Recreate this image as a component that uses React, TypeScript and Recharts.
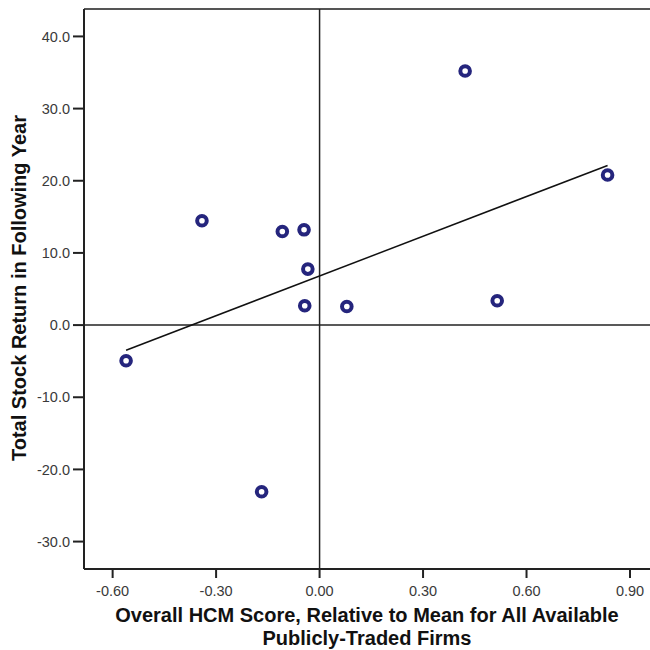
import React from "react";
import { ScatterChart, Scatter, XAxis, YAxis, ReferenceLine } from "recharts";

const hcmScore = [-0.561, -0.341, -0.168, -0.108, -0.045, -0.034, -0.043, 0.079, 0.422, 0.835, 0.515];
const stockReturn = [-4.94, 14.45, -23.1, 12.96, 13.2, 7.76, 2.67, 2.58, 35.2, 20.8, 3.37];
const xTicks = [-0.6, -0.3, 0, 0.3, 0.6, 0.9];
const yTicks = [-30, -20, -10, 0, 10, 20, 30, 40];
const xDomain = [-0.683, 0.958];
const yDomain = [-33.8, 43.8];

const data = hcmScore.map((x, i) => ({ x, y: stockReturn[i] }));

// ordinary least squares fit line across the data range
const n = hcmScore.length;
const mx = hcmScore.reduce((a, b) => a + b, 0) / n;
const my = stockReturn.reduce((a, b) => a + b, 0) / n;
let sxx = 0;
let sxy = 0;
for (let i = 0; i < n; i++) {
  sxx += (hcmScore[i] - mx) ** 2;
  sxy += (hcmScore[i] - mx) * (stockReturn[i] - my);
}
const slope = sxy / sxx;
const intercept = my - slope * mx;
const xMin = Math.min(...hcmScore);
const xMax = Math.max(...hcmScore);
const fitSegment = [
  { x: xMin, y: intercept + slope * xMin },
  { x: xMax, y: intercept + slope * xMax },
];

const FONT = '"Liberation Sans", Arial, sans-serif';

const Ring = (props: any) => {
  const { cx, cy } = props;
  return <circle cx={cx} cy={cy} r={4.8} fill="#ffffff" stroke="#25257d" strokeWidth={4} />;
};

const XLabel = () => (
  <text textAnchor="middle" fontFamily={FONT} fontSize={20} fontWeight="bold" fill="#111">
    <tspan x={367} y={622}>Overall HCM Score, Relative to Mean for All Available</tspan>
    <tspan x={367} y={645}>Publicly-Traded Firms</tspan>
  </text>
);

const YLabel = () => (
  <text
    x={26}
    y={288}
    transform="rotate(-90, 26, 288)"
    textAnchor="middle"
    fontFamily={FONT}
    fontSize={20}
    fontWeight="bold"
    fill="#111"
  >
    Total Stock Return in Following Year
  </text>
);

export default function App() {
  return (
    <div style={{ position: "absolute", left: 0, top: 0, width: 650, height: 650, background: "#fff" }}>
      <ScatterChart width={650} height={650} margin={{ top: 9, right: 0, bottom: 0, left: 0 }}>
        <XAxis
          type="number"
          dataKey="x"
          domain={xDomain}
          ticks={xTicks}
          allowDataOverflow
          height={81}
          tickSize={9}
          tickMargin={8}
          tickFormatter={(v: number) => v.toFixed(2)}
          tick={{ fontSize: 14.5, fill: "#3a3a3a", fontFamily: FONT }}
          axisLine={{ stroke: "#222", strokeWidth: 2 }}
          tickLine={{ stroke: "#222", strokeWidth: 2 }}
          label={XLabel}
        />
        <YAxis
          type="number"
          dataKey="y"
          domain={yDomain}
          ticks={yTicks}
          allowDataOverflow
          width={84}
          tickSize={11}
          tickMargin={3}
          tickFormatter={(v: number) => v.toFixed(1)}
          tick={{ fontSize: 14.5, fill: "#3a3a3a", fontFamily: FONT }}
          axisLine={{ stroke: "#222", strokeWidth: 2 }}
          tickLine={{ stroke: "#222", strokeWidth: 2 }}
          label={YLabel}
        />
        <ReferenceLine y={yDomain[1]} stroke="#555" strokeWidth={2} />
        <ReferenceLine x={0} stroke="#222" strokeWidth={1.5} />
        <ReferenceLine y={0} stroke="#222" strokeWidth={1.5} />
        <ReferenceLine segment={fitSegment} stroke="#111" strokeWidth={1.5} />
        <Scatter data={data} shape={Ring} isAnimationActive={false} />
      </ScatterChart>
    </div>
  );
}
